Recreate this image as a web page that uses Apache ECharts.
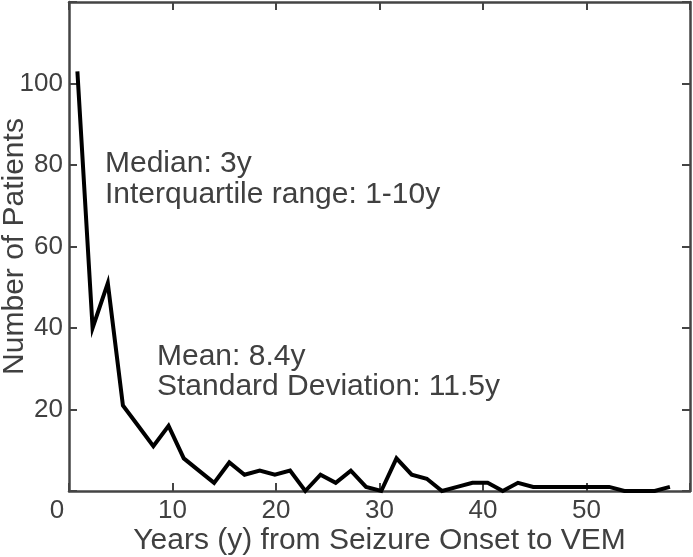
<!DOCTYPE html>
<html>
<head>
<meta charset="utf-8">
<script src="https://cdn.jsdelivr.net/npm/echarts@6/dist/echarts.min.js"></script>
<style>
  html, body { margin: 0; padding: 0; background: #fff; }
  #chart { width: 693px; height: 557px; }
</style>
</head>
<body>
<div id="chart"></div>
<script>
// years from seizure onset (bin positions)
const years = [0.81, 2.28, 3.75, 5.21, 6.68, 8.15, 9.62, 11.09, 12.55, 14.02,
  15.49, 16.96, 18.43, 19.89, 21.36, 22.83, 24.30, 25.77, 27.23, 28.70,
  30.17, 31.64, 33.11, 34.57, 36.04, 37.51, 38.98, 40.45, 41.91, 43.38,
  44.85, 46.32, 47.79, 49.25, 50.72, 52.19, 53.66, 55.13, 56.59, 58.06];
// number of patients per bin
const patients = [103, 40, 51, 21, 16, 11, 16, 8, 5, 2,
  7, 4, 5, 4, 5, 0, 4, 2, 5, 1,
  0, 8, 4, 3, 0, 1, 2, 2, 0, 2,
  1, 1, 1, 1, 1, 1, 0, 0, 0, 1];
const xTicks = [0, 10, 20, 30, 40, 50, 60];
const yTicks = [0, 20, 40, 60, 80, 100, 120];
const notes = [
  ['Median: 3y', 'Interquartile range: 1-10y'],
  ['Mean: 8.4y', 'Standard Deviation: 11.5y']
];

const FONT = "'Liberation Sans', Arial, Helvetica, sans-serif";
const TXT = '#404040';
const AX = '#444444';

let chart = echarts.init(document.getElementById('chart'));

const axisLine = { show: true, onZero: false, lineStyle: { color: AX, width: 2.5 } };
const axisTick = { show: true, inside: true, length: 8, lineStyle: { color: AX, width: 2 } };

chart.setOption({
  animation: false,
  grid: { left: 69, right: 3, top: 2, bottom: 66, outerBoundsMode: 'none', containLabel: false },
  xAxis: [
    {
      type: 'value',
      min: xTicks[0],
      max: xTicks[xTicks.length - 1],
      interval: 10,
      position: 'bottom',
      axisLine: axisLine,
      axisTick: axisTick,
      splitLine: { show: false },
      axisLabel: {
        color: TXT, fontSize: 26, fontFamily: FONT, margin: 7,
        showMinLabel: true, showMaxLabel: true,
        formatter: function (v) {
          if (v === 0) return '{z|0}';
          if (v === 60) return '';
          return String(v);
        },
        rich: { z: { fontSize: 26, fontFamily: FONT, color: TXT, padding: [0, 24, 0, 0] } }
      },
      name: 'Years (y) from Seizure Onset to VEM',
      nameLocation: 'middle',
      nameGap: 35,
      nameMoveOverlap: false,
      nameTextStyle: { color: TXT, fontSize: 30, fontFamily: FONT }
    },
    {
      type: 'value',
      min: xTicks[0],
      max: xTicks[xTicks.length - 1],
      interval: 10,
      position: 'top',
      axisLine: axisLine,
      axisTick: axisTick,
      splitLine: { show: false },
      axisLabel: { show: false }
    }
  ],
  yAxis: [
    {
      type: 'value',
      min: yTicks[0],
      max: yTicks[yTicks.length - 1],
      interval: 20,
      position: 'left',
      axisLine: axisLine,
      axisTick: axisTick,
      splitLine: { show: false },
      axisLabel: {
        color: TXT, fontSize: 26, fontFamily: FONT, margin: 6,
        formatter: function (v) { return (v === 0 || v === 120) ? '' : String(v); }
      },
      name: 'Number of Patients',
      nameLocation: 'middle',
      nameGap: 39,
      nameMoveOverlap: false,
      nameTextStyle: { color: TXT, fontSize: 30, fontFamily: FONT }
    },
    {
      type: 'value',
      min: yTicks[0],
      max: yTicks[yTicks.length - 1],
      interval: 20,
      position: 'right',
      axisLine: axisLine,
      axisTick: axisTick,
      splitLine: { show: false },
      axisLabel: { show: false }
    }
  ],
  series: [
    {
      type: 'line',
      data: years.map((x, i) => [x, patients[i]]),
      showSymbol: false,
      lineStyle: { color: '#000', width: 4, join: 'miter' },
      clip: false
    }
  ],
  graphic: [
    { type: 'text', left: 105, top: 149, style: { text: notes[0][0], font: '30px ' + FONT, fill: TXT } },
    { type: 'text', left: 105, top: 180, style: { text: notes[0][1], font: '30px ' + FONT, fill: TXT } },
    { type: 'text', left: 157, top: 342, style: { text: notes[1][0], font: '30px ' + FONT, fill: TXT } },
    { type: 'text', left: 157, top: 372, style: { text: notes[1][1], font: '30px ' + FONT, fill: TXT } }
  ]
});
</script>
</body>
</html>
